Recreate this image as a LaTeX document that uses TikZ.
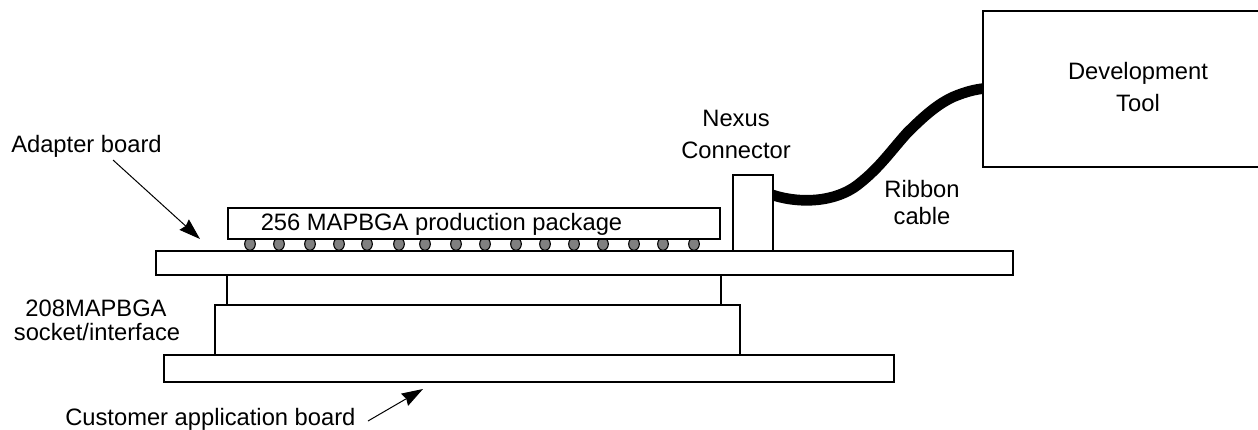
\documentclass[tikz,border=0pt]{standalone}
\usepackage{fontspec}
\setmainfont{Liberation Sans}
\usetikzlibrary{arrows.meta,shapes.geometric,backgrounds}
\tikzset{
  part/.style={draw=black,line width=1.5pt,fill=white,inner sep=0pt,outer sep=0pt},
  lbl/.style={font=\fontsize{17.8}{24}\selectfont,align=center,inner sep=0pt,anchor=base},
  pointer/.style={line width=0.75pt,-{Stealth[length=16pt,width=10.5pt,inset=1.5pt]}},
  ball/.style={draw=black,line width=0.8pt,fill=black!50,ellipse,minimum width=8pt,minimum height=9.5pt,inner sep=0pt},
  ribbon/.style={line width=8pt}
}
\newcommand{\partbox}[5]{\node[part,anchor=north west,minimum width=#4*0.75pt-#2*0.75pt,minimum height=#5*0.75pt-#3*0.75pt] (#1) at (#2,#3) {};}
\begin{document}
\begin{tikzpicture}[x=0.75pt,y=-0.75pt]
\useasboundingbox (0,0) rectangle (1258,429);
\foreach \x [count=\i] in {250,279,310,339,367,399,425,456,485,516,545,574,603,634,663,694}
  \node[ball] (b\i) at (\x,244) {};
\partbox{pkg}{228}{208}{720}{239}
\partbox{inter}{227}{275}{721}{305}
\partbox{sock}{215}{305}{740}{355}
\partbox{cust}{164}{355}{894}{382}
\partbox{conn}{733}{175}{773}{251}
\partbox{adapter}{156}{251}{1013}{275}
\partbox{tool}{983}{11}{1264}{167}
\coordinate (rs) at ([xshift=-4.5pt,yshift=-13.5pt]conn.north east);
\coordinate (re) at ([xshift=4.5pt,yshift=-57.75pt]tool.north west);
\begin{scope}[on background layer]
\draw[ribbon] (rs) .. controls (795,204) and (835,204) .. (860,183) .. controls (880,167) and (890,152) .. (907,133) .. controls (925,115) and (938,104) .. (953,97) .. controls (965,92) and (975,89) .. (re);
\end{scope}
\node[lbl] (pkgt) at (441.5,230) {256 MAPBGA production package};
\node[lbl] (tt) at (1138,79) {Development};
\node[lbl] (tt2) at (1138,111) {Tool};
\node[lbl] (nt) at (736,126) {Nexus};
\node[lbl] (nt2) at (736,158) {Connector};
\node[lbl] (rt) at (922,197) {Ribbon};
\node[lbl] (rt2) at (922,224) {cable};
\node[lbl,anchor=base west] (at) at (11,152) {Adapter board};
\node[lbl] (st) at (96,316) {208MAPBGA};
\node[lbl] (st2) at (97,340) {socket/interface};
\node[lbl,anchor=base west] (ct) at (65,425) {Customer application board};
\coordinate (as) at (113,160);
\coordinate (ap) at (200,239);
\coordinate (cs) at (368,421);
\coordinate (cp) at (423,389);
\draw[pointer] (as) -- (ap);
\draw[pointer] (cs) -- (cp);
\end{tikzpicture}
\end{document}
